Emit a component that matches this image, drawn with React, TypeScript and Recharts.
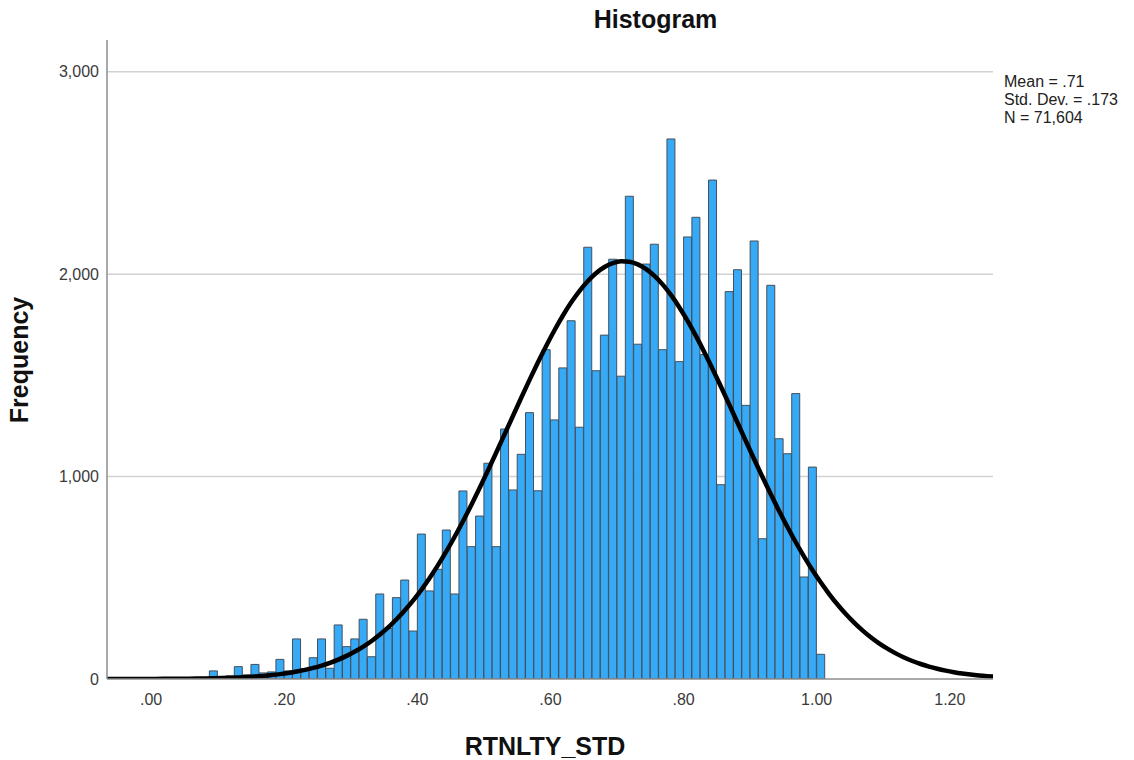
import { ComposedChart, Bar, Line, XAxis, YAxis, CartesianGrid } from "recharts";

const TITLE = "Histogram";
const X_LABEL = "RTNLTY_STD";
const Y_LABEL = "Frequency";

// Bins are 0.0125 wide; the first listed bin is bin #7 (starts at .0875)
const BIN_WIDTH = 0.0125;
const FIRST_BIN = 7;

const FREQUENCIES = [
  40, 10, 15, 61, 20, 72, 30, 35, 97, 40,
  198, 50, 105, 198, 53, 267, 160, 198, 295, 110,
  420, 250, 402, 489, 237, 716, 435, 542, 736, 420,
  929, 654, 805, 1066, 654, 1235, 934, 1110, 1316, 930,
  1627, 1280, 1537, 1770, 1244, 2133, 1523, 1699, 2074, 1496,
  2385, 1654, 2050, 2148, 1627, 2668, 1568, 2184, 2281, 1603,
  2465, 960, 1914, 2022, 1352, 2164, 693, 1945, 1187, 1113,
  1410, 504, 1047, 122,
];

// Summary statistics, also used for the fitted normal curve
const MEAN = 0.71;
const STD_DEV = 0.173;
const N = 71604;

const X_TICKS = [0, 0.2, 0.4, 0.6, 0.8, 1.0, 1.2];
const Y_TICKS = [0, 1000, 2000, 3000];
const X_DOMAIN: [number, number] = [-0.0663, 1.2649];
const Y_DOMAIN: [number, number] = [0, 3157];

// rows run a little past both ends of the x domain so the curve reaches the edges
const ROW_FROM = -6;
const ROW_TO = 101;

function normalCount(x: number) {
  const z = (x - MEAN) / STD_DEV;
  return (N * BIN_WIDTH * Math.exp(-0.5 * z * z)) / (STD_DEV * Math.sqrt(2 * Math.PI));
}

const rows: { x: number; freq: number; normal: number }[] = [];
for (let k = ROW_FROM; k <= ROW_TO; k++) {
  const x = (k + 0.5) * BIN_WIDTH;
  rows.push({ x, freq: FREQUENCIES[k - FIRST_BIN] ?? 0, normal: normalCount(x) });
}

const fmtX = (v: number) => {
  const s = v.toFixed(2);
  return v < 1 ? s.replace(/^0/, "") : s;
};
const fmtY = (v: number) => v.toLocaleString("en-US");
const fmtStat = (v: number) => String(v).replace(/^0/, "");

const STAT_LINES = [
  `Mean = ${fmtStat(MEAN)}`,
  `Std. Dev. = ${fmtStat(STD_DEV)}`,
  `N = ${N.toLocaleString("en-US")}`,
];

const FONT = "'Liberation Sans', Arial, sans-serif";
const TICK_STYLE = { fontSize: 16, fill: "#3a3a3a", fontFamily: FONT };

// grid lines only at the labelled y values (0 sits on the axis line)
const gridRows = ({ yAxis, offset }: any) =>
  Y_TICKS.filter((v) => v > 0).map((v) => {
    const s = yAxis?.scale;
    if (typeof s === "function") return s(v);
    if (s && typeof s.map === "function") return s.map(v);
    return offset.top + offset.height * (1 - (v - Y_DOMAIN[0]) / (Y_DOMAIN[1] - Y_DOMAIN[0]));
  });

export default function App() {
  return (
    <div style={{ position: "absolute", left: 0, top: 0, width: 1134, height: 760, background: "#fff" }}>
      <ComposedChart
        width={1134}
        height={760}
        data={rows}
        margin={{ top: 40, right: 141, bottom: 0, left: 0 }}
        barCategoryGap={0}
        barGap={0}
      >
        <CartesianGrid
          horizontal
          vertical={false}
          horizontalCoordinatesGenerator={gridRows}
          stroke="#d2d2d2"
          strokeWidth={1.5}
        />
        <XAxis
          dataKey="x"
          type="number"
          domain={X_DOMAIN}
          allowDataOverflow
          ticks={X_TICKS}
          tickFormatter={fmtX}
          tickLine={false}
          tickMargin={9}
          height={81}
          axisLine={{ stroke: "#8c8c8c", strokeWidth: 1.5 }}
          tick={TICK_STYLE}
        />
        <YAxis
          type="number"
          domain={Y_DOMAIN}
          allowDataOverflow
          ticks={Y_TICKS}
          tickFormatter={fmtY}
          tickLine={false}
          width={107}
          axisLine={{ stroke: "#8c8c8c", strokeWidth: 1.5 }}
          tick={TICK_STYLE}
        />
        <Bar
          dataKey="freq"
          fill="#36aaf6"
          stroke="#44505c"
          strokeWidth={1}
          isAnimationActive={false}
        />
        <Line
          dataKey="normal"
          type="monotone"
          stroke="#000"
          strokeWidth={4.5}
          dot={false}
          activeDot={false}
          isAnimationActive={false}
        />
      </ComposedChart>
      <svg
        width={1134}
        height={760}
        style={{ position: "absolute", left: 0, top: 0, pointerEvents: "none" }}
        fontFamily={FONT}
      >
        <text x={655.5} y={27.5} textAnchor="middle" fontSize={25} fontWeight="bold" fill="#111">
          {TITLE}
        </text>
        {STAT_LINES.map((line, i) => (
          <text key={line} x={1004} y={87 + i * 18} fontSize={16} fill="#222">
            {line}
          </text>
        ))}
        <text
          transform="translate(28 360) rotate(-90)"
          textAnchor="middle"
          fontSize={25}
          fontWeight="bold"
          fill="#111"
        >
          {Y_LABEL}
        </text>
        <text x={545} y={755} textAnchor="middle" fontSize={25} fontWeight="bold" fill="#111">
          {X_LABEL}
        </text>
      </svg>
    </div>
  );
}
